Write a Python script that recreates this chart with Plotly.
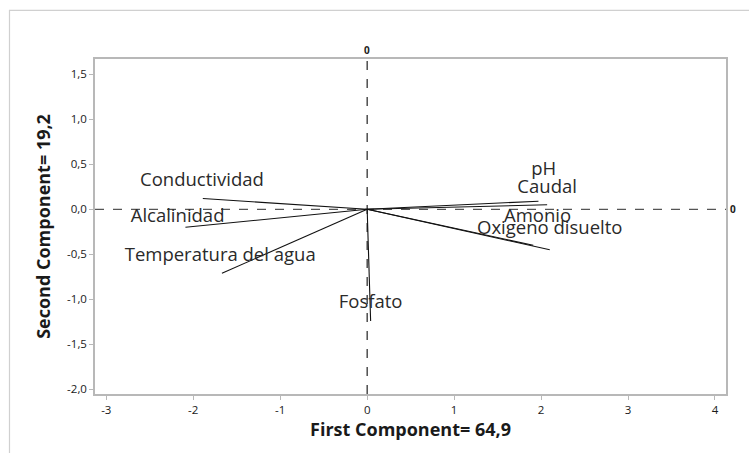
import plotly.graph_objects as go

# Loadings of each water-quality variable on the first two principal components
variables = ["Conductividad", "Alcalinidad", "Temperatura del agua", "Fosfato",
             "pH", "Caudal", "Amonio", "Oxigeno disuelto"]
pc1 = [-1.89, -2.09, -1.67, 0.04, 1.97, 2.07, 1.91, 2.10]
pc2 = [0.12, -0.20, -0.71, -1.24, 0.09, 0.05, -0.40, -0.45]

# Where each variable name is written (data coordinates)
label_x = [-1.90, -2.18, -1.69, 0.04, 2.03, 2.07, 1.96, 2.10]
label_y = [0.31, -0.09, -0.52, -1.05, 0.43, 0.23, -0.09, -0.22]

x_ticks = [-3, -2, -1, 0, 1, 2, 3, 4]
y_ticks = [-2.0, -1.5, -1.0, -0.5, 0.0, 0.5, 1.0, 1.5]
y_tick_text = ["-2,0", "-1,5", "-1,0", "-0,5", "0,0", "0,5", "1,0", "1,5"]

x_title = "First Component= 64,9"
y_title = "Second Component= 19,2"

FONT = "Open Sans"

fig = go.Figure()

# one segment from the origin to each loading
for name, x, y in zip(variables, pc1, pc2):
    fig.add_trace(go.Scatter(
        x=[0, x], y=[0, y], mode="lines",
        line=dict(color="#111111", width=1.1),
        name=name, hoverinfo="name", showlegend=False,
    ))

fig.add_trace(go.Scatter(
    x=label_x, y=label_y, mode="text", text=variables,
    textposition="middle center",
    textfont=dict(family=FONT, size=18.5, color="#2a2a2a"),
    hoverinfo="skip", showlegend=False,
))

# dashed reference lines through the origin
fig.add_shape(type="line", xref="x", yref="paper", x0=0, x1=0, y0=0, y1=1,
              line=dict(color="#222222", width=1.2, dash="dash"), layer="below")
fig.add_shape(type="line", xref="paper", yref="y", x0=0, x1=1, y0=0, y1=0,
              line=dict(color="#555555", width=1.2, dash="dash"), layer="below")
fig.add_annotation(x=0, y=1, xref="x", yref="paper", xanchor="center", yanchor="middle",
                   yshift=9, text="<b>0</b>", showarrow=False,
                   font=dict(family=FONT, size=10, color="#222222"))
fig.add_annotation(x=1, y=0, xref="paper", yref="y", xanchor="center", yanchor="middle",
                   xshift=7, text="<b>0</b>", showarrow=False,
                   font=dict(family=FONT, size=10, color="#222222"))

# outer panel border
fig.add_shape(type="rect", xref="paper", yref="paper",
              x0=-0.1355, x1=1.2, y0=-0.4, y1=1.145,
              line=dict(color="#d0d0d0", width=1.2), layer="below")

fig.update_xaxes(
    range=[-3.13, 4.127], tickvals=x_ticks, ticktext=[str(v) for v in x_ticks],
    showgrid=False, zeroline=False, showline=True, mirror=True,
    linecolor="#b8b8b8", linewidth=1.5,
    ticks="outside", ticklen=4, tickcolor="#b8b8b8",
    tickfont=dict(family=FONT, size=11.5, color="#1a1a1a"),
    title=dict(text="<b>" + x_title + "</b>", standoff=8,
               font=dict(family=FONT, size=18, color="#1a1a1a")),
)
fig.update_yaxes(
    range=[-2.052, 1.67], tickvals=y_ticks, ticktext=y_tick_text,
    showgrid=False, zeroline=False, showline=True, mirror=True,
    linecolor="#b8b8b8", linewidth=1.5,
    ticks="outside", ticklen=4, tickcolor="#b8b8b8",
    tickfont=dict(family=FONT, size=11.5, color="#1a1a1a"),
    title=dict(text="<b>" + y_title + "</b>", standoff=12,
               font=dict(family=FONT, size=18, color="#1a1a1a")),
)

fig.update_layout(
    width=749, height=453,
    margin=dict(l=95, r=23, t=59, b=59),
    paper_bgcolor="white", plot_bgcolor="white",
)

fig.write_html("out.html")
